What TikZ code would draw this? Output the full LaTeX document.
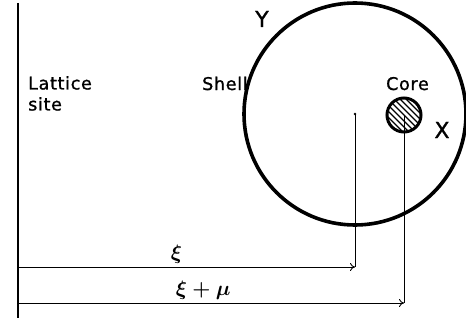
\documentclass[tikz,border=0pt]{standalone}
\usepackage{fontspec}
\setmainfont{DejaVu Sans}[LetterSpace=4, FakeBold=1.2]
\usepackage{tikz}
\usetikzlibrary{arrows.meta,positioning,calc}

\begin{document}
\begin{tikzpicture}[
  x=1pt, y=1pt,
  shellring/.style={draw=black, line width=3.6pt},
  corering/.style={draw=black, line width=3pt},
  hatchline/.style={draw=black, line width=1.2pt},
  siteline/.style={draw=black, line width=1.6pt},
  dropline/.style={draw=black, line width=0.9pt},
  dimarrow/.style={draw=black, line width=0.9pt, -{To[length=5pt,width=8pt]}},
  lab/.style={font=\fontsize{17.5}{21}\selectfont, inner sep=0pt},
  axlab/.style={font=\fontsize{22}{24}\selectfont, inner sep=0pt},
  sym/.style={font=\fontsize{22}{24}\selectfont\boldmath, inner sep=1pt}
]
  \useasboundingbox (0,0) rectangle (466,322);

  % points
  \coordinate (top) at (18,319);
  \coordinate (bot) at (18,4);
  \coordinate (S) at (355,208);
  \coordinate (C) at (404,207);
  \coordinate (xi) at (18,55);
  \coordinate (ximu) at (18,19);

  % lattice site line
  \draw[siteline] (top) -- (bot);

  % shell
  \draw[shellring] (S) circle[radius=111];
  \fill (S) circle[radius=1.3];

  % core with hatching
  \begin{scope}
    \clip (C) circle[radius=17];
    \foreach \d in {-30,-24,...,30} {
      \draw[hatchline] ($(C)+(\d,0)+(-25,25)$) -- ($(C)+(\d,0)+(25,-25)$);
    }
  \end{scope}
  \draw[corering] (C) circle[radius=17];

  % drops and displacement arrows
  \draw[dropline] (S) -- (S |- xi);
  \draw[dropline] (C) -- (C |- ximu);
  \draw[dimarrow] (xi) -- (S |- xi) node[sym, pos=0.47, above=2pt] {$\xi$};
  \draw[dimarrow] (ximu) -- (C |- ximu) node[sym, pos=0.48, above=2pt] {$\xi + \mu$};

  % labels
  \node[lab, anchor=north west, align=left] (site) at (28,246) {Lattice\\site};
  \node[lab, anchor=base west] (shell) at (202,232) {Shell};
  \node[lab, anchor=base west] (core) at (386,232) {Core};
  \node[axlab, anchor=base] (Y) at (262,295) {Y};
  \node[axlab, anchor=base] (X) at (442,184) {X};
\end{tikzpicture}
\end{document}
